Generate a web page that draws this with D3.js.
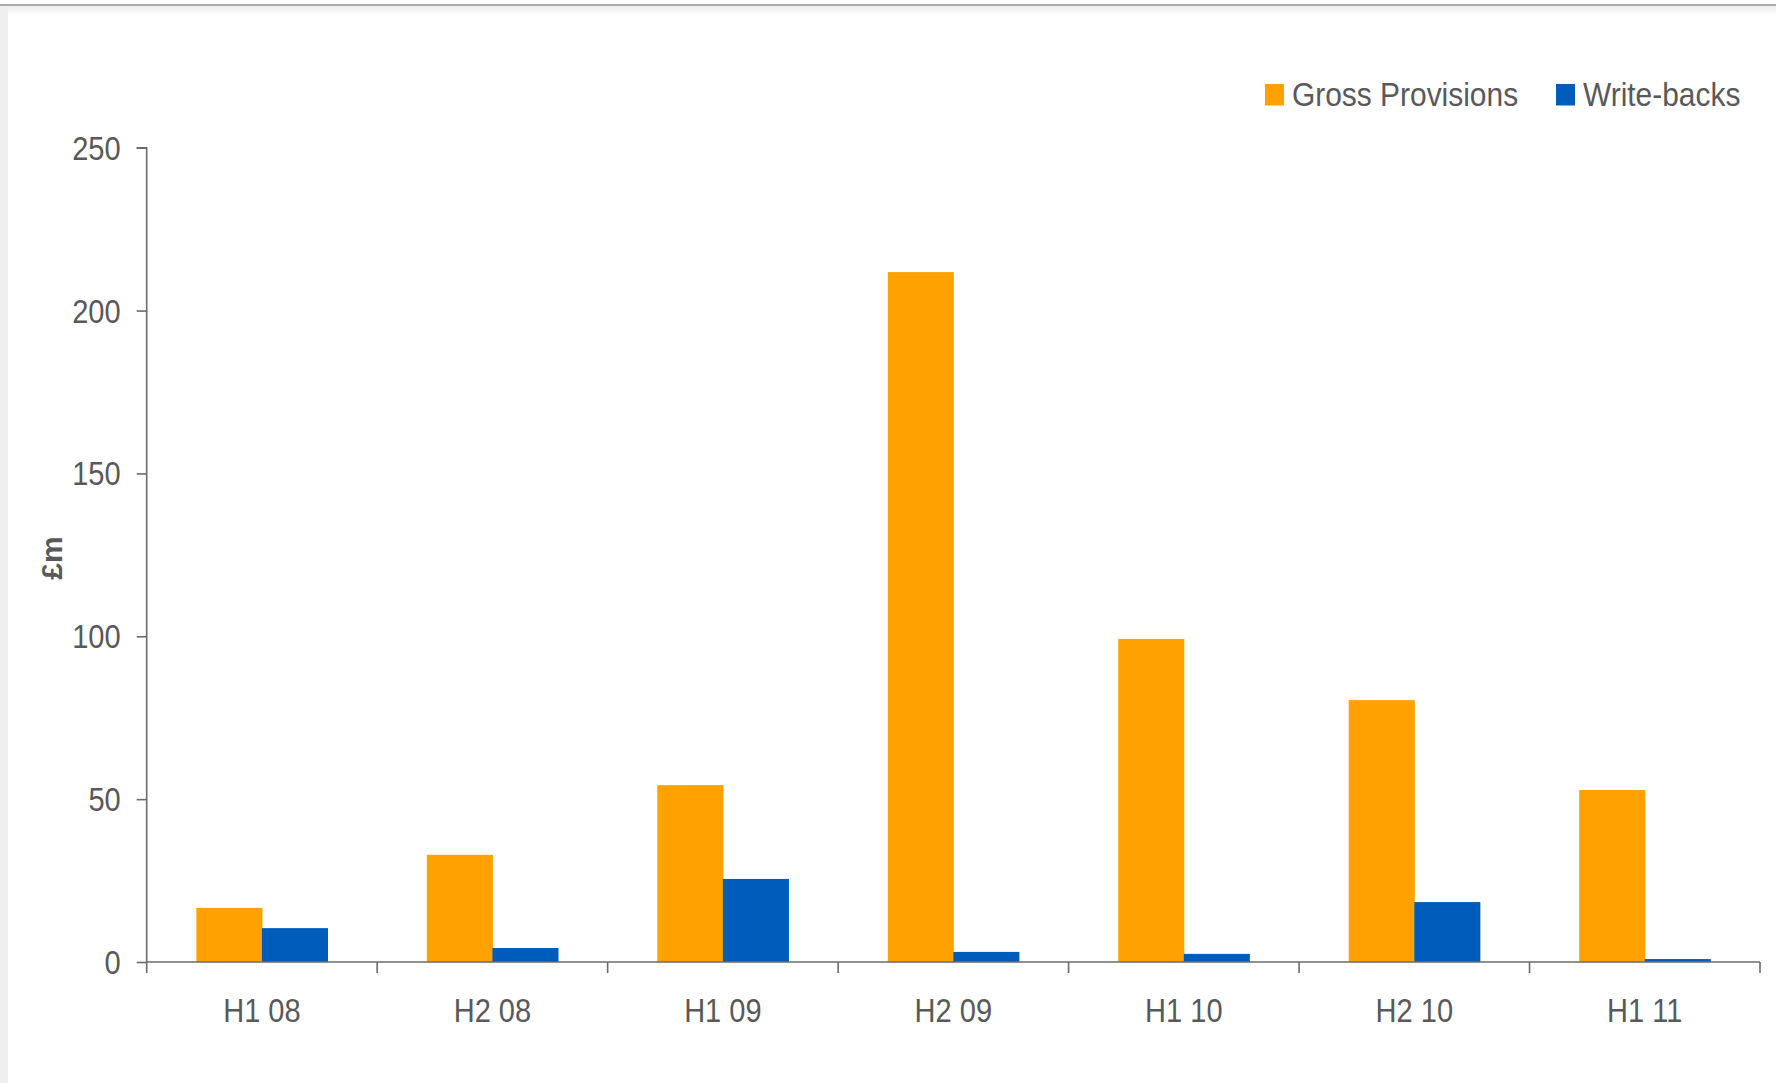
<!DOCTYPE html>
<html>
<head>
<meta charset="utf-8">
<script src="https://cdn.jsdelivr.net/npm/d3@7"></script>
<style>
  html, body { margin: 0; padding: 0; background: #fff; }
  svg { display: block; }
  text { font-family: "Liberation Sans", Arial, Helvetica, sans-serif; fill: #595959; }
</style>
</head>
<body>
<svg id="chart" width="1776" height="1083"></svg>
<script>
// Half-year periods
const categories = ["H1 08", "H2 08", "H1 09", "H2 09", "H1 10", "H2 10", "H1 11"];
// Series names and values (£m)
const seriesNames = ["Gross Provisions", "Write-backs"];
const grossProvisions = [16.6, 32.9, 54.3, 211.8, 99.2, 80.4, 52.8];
const writeBacks = [10.4, 4.3, 25.5, 3.1, 2.5, 18.4, 0.9];
const yTicks = [0, 50, 100, 150, 200, 250];

const colors = { "Gross Provisions": "#FFA100", "Write-backs": "#005CBB" };
const seriesValues = { "Gross Provisions": grossProvisions, "Write-backs": writeBacks };

const svg = d3.select("#chart");
const W = 1776, H = 1083;

// Page frame: top rule, soft shade under it, grey strip on the left
const defs = svg.append("defs");
const grad = defs.append("linearGradient").attr("id", "shade").attr("x1", 0).attr("y1", 0).attr("x2", 0).attr("y2", 1);
grad.append("stop").attr("offset", 0).attr("stop-color", "#ececec");
grad.append("stop").attr("offset", 1).attr("stop-color", "#ffffff");
svg.append("rect").attr("x", 0).attr("y", 6).attr("width", W).attr("height", 9).attr("fill", "url(#shade)");
svg.append("rect").attr("x", 0).attr("y", 6).attr("width", 8).attr("height", H - 6).attr("fill", "#efefef");
svg.append("line").attr("x1", 0).attr("x2", W).attr("y1", 5).attr("y2", 5)
  .attr("stroke", "#8c8c8c").attr("stroke-width", 1.5);

const plot = { left: 146.7, right: 1760, top: 147.7, bottom: 962 };

const x0 = d3.scaleBand().domain(categories).range([plot.left, plot.right]).paddingInner(0).paddingOuter(0);
const bw = x0.bandwidth();
const x1 = d3.scaleBand().domain(seriesNames).range([bw * 0.2155, bw * 0.7845]).padding(0);
const y = d3.scaleLinear().domain([0, 250]).range([plot.bottom, plot.top]);

// Bars
const groups = svg.append("g").selectAll("g")
  .data(categories).join("g")
  .attr("transform", d => `translate(${x0(d)},0)`);

groups.selectAll("rect")
  .data((c, i) => seriesNames.map(s => ({ s, v: seriesValues[s][i] })))
  .join("rect")
  .attr("x", d => x1(d.s))
  .attr("width", x1.bandwidth() + 0.5)
  .attr("y", d => y(d.v))
  .attr("height", d => y(0) - y(d.v))
  .attr("fill", d => colors[d.s]);

const axisColor = "#6b6b6b";

// Y axis
const yAxis = svg.append("g")
  .attr("transform", `translate(${plot.left},0)`)
  .call(d3.axisLeft(y).tickValues(yTicks).tickSize(10).tickPadding(16).tickFormat(d3.format("d")));
yAxis.select(".domain").attr("stroke", axisColor).attr("stroke-width", 1.6).attr("d", `M-10,${plot.top}H0V${plot.bottom}`);
yAxis.selectAll(".tick line").attr("stroke", axisColor).attr("stroke-width", 1.6);
yAxis.selectAll(".tick text").attr("font-size", 33).attr("dy", "0.35em").style("fill", "#595959")
  .attr("font-family", "Liberation Sans, Arial, sans-serif");

// X axis: ticks at band boundaries, labels centred in bands
const xAxisG = svg.append("g").attr("transform", `translate(0,${plot.bottom})`);
xAxisG.append("line").attr("x1", plot.left).attr("x2", plot.right).attr("y1", 0).attr("y2", 0)
  .attr("stroke", axisColor).attr("stroke-width", 1.6);
const boundaries = categories.map(c => x0(c)).concat([plot.right]);
xAxisG.selectAll("line.tk").data(boundaries).join("line").attr("class", "tk")
  .attr("x1", d => d).attr("x2", d => d).attr("y1", 0).attr("y2", 11)
  .attr("stroke", axisColor).attr("stroke-width", 1.6);
xAxisG.selectAll("text").data(categories).join("text")
  .attr("x", d => x0(d) + bw / 2).attr("y", 60)
  .attr("text-anchor", "middle").attr("font-size", 33)
  .text(d => d);

// Y axis title
svg.append("text")
  .attr("transform", "translate(62,558) rotate(-90)")
  .attr("text-anchor", "middle")
  .attr("font-size", 30).attr("font-weight", "bold")
  .attr("class", "ytitle")
  .text("£m");

// Legend
const legendItems = [
  { name: "Gross Provisions", x: 1265 },
  { name: "Write-backs", x: 1556 }
];
const lg = svg.append("g").selectAll("g").data(legendItems).join("g")
  .attr("transform", d => `translate(${d.x},84)`);
lg.append("rect").attr("width", 19).attr("height", 21.5).attr("fill", d => colors[d.name]);
lg.append("text").attr("x", 27).attr("y", 21.5).attr("font-size", 34).text(d => d.name);

// Narrow the horizontal text slightly (condensed face)
svg.selectAll("text").filter(function () { return !this.classList.contains("ytitle"); })
  .each(function () {
    const w = this.getComputedTextLength();
    this.setAttribute("textLength", (w * 0.88).toFixed(1));
    this.setAttribute("lengthAdjust", "spacingAndGlyphs");
  });
</script>
</body>
</html>
